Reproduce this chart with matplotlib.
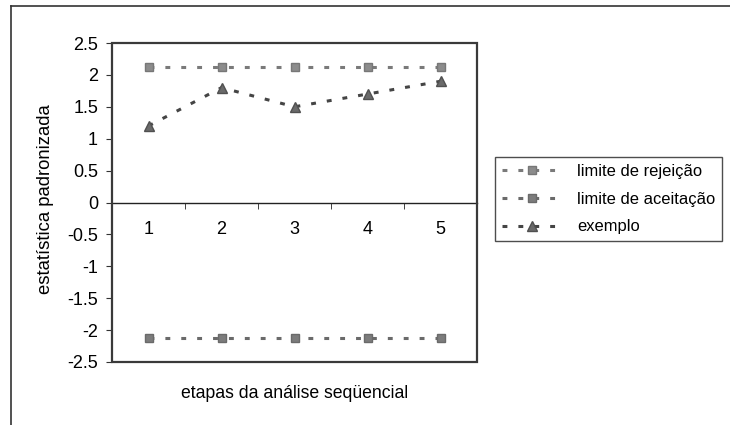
import numpy as np
import matplotlib
matplotlib.use("Agg")
import matplotlib.pyplot as plt
from matplotlib.patches import Rectangle
from matplotlib.lines import Line2D

plt.rcParams['font.family'] = ['Liberation Sans', 'DejaVu Sans']

# data
etapas = [1, 2, 3, 4, 5]
limite_rejeicao = [2.12, 2.12, 2.12, 2.12, 2.12]
limite_aceitacao = [-2.12, -2.12, -2.12, -2.12, -2.12]
exemplo = [1.2, 1.8, 1.5, 1.7, 1.9]
y_ticks = [2.5, 2, 1.5, 1, 0.5, 0, -0.5, -1, -1.5, -2, -2.5]
y_ticklabels = ['2.5', '2', '1.5', '1', '0.5', '0', '-0.5', '-1', '-1.5', '-2', '-2.5']
nomes = ['limite de rejeição', 'limite de aceitação', 'exemplo']

fig = plt.figure(figsize=(7.3, 4.25), dpi=100)
ax = fig.add_axes([112/730, 1-362/425, 365/730, 319/425])

ls = (0, (1.6, 3.6))
ax.plot(etapas, limite_rejeicao, linestyle=ls, lw=2.2, color='#7a7a7a',
        marker='s', ms=5.5, mfc='#8c8c8c', mec='#777777', label=nomes[0])
ax.plot(etapas, limite_aceitacao, linestyle=ls, lw=2.2, color='#6a6a6a',
        marker='s', ms=5.5, mfc='#7c7c7c', mec='#6a6a6a', label=nomes[1])
ax.plot(etapas, exemplo, linestyle=ls, lw=2.2, color='#454545',
        marker='^', ms=7, mfc='#6a6a6a', mec='#505050', label=nomes[2])

ax.set_xlim(0.5, 5.5)
ax.set_ylim(-2.5, 2.5)

# plot-area frame
for s in ['top', 'right', 'left']:
    ax.spines[s].set_visible(False)
ax.add_patch(Rectangle((0, 0), 1, 1, transform=ax.transAxes, fill=False,
                       ec='#3a3a3a', lw=1.6, clip_on=False, zorder=5))

# category axis crosses at zero
ax.spines['bottom'].set_position(('data', 0))
ax.spines['bottom'].set_color('#222222')
ax.spines['bottom'].set_linewidth(1.0)
ax.set_xticks(etapas)
ax.set_xticklabels([str(e) for e in etapas], fontsize=13)
ax.set_xticks([1.5, 2.5, 3.5, 4.5], minor=True)
ax.tick_params(axis='x', which='major', length=0, pad=13.5)
ax.tick_params(axis='x', which='minor', length=4, direction='out', color='#222222')

ax.set_yticks(y_ticks)
ax.set_yticklabels(y_ticklabels, fontsize=13)
ax.tick_params(axis='y', length=4, direction='out', pad=6, color='#333333')

ax.set_ylabel('estatística padronizada', fontsize=13.3)
ax.yaxis.set_label_coords(-0.16, 0.51)
ax.text(0.5, -0.098, 'etapas da análise seqüencial', transform=ax.transAxes,
        ha='center', va='center', fontsize=12.7)

leg = fig.legend(loc='upper left', bbox_to_anchor=(495/730, 1-157/425),
                 bbox_transform=fig.transFigure, borderaxespad=0,
                 fontsize=11.9, frameon=True, fancybox=False, handlelength=3.7,
                 handletextpad=0.85, labelspacing=0.78, borderpad=0.4)
leg.get_frame().set_edgecolor('#222222')
leg.get_frame().set_linewidth(1.0)

# outer chart border (only top and left survive in the scan)
fig.add_artist(Line2D([11/730, 1.0], [1-6/425, 1-6/425], transform=fig.transFigure,
                      color='#333333', lw=1.2))
fig.add_artist(Line2D([11/730, 11/730], [0.0, 1-6/425], transform=fig.transFigure,
                      color='#333333', lw=1.2))

fig.savefig('out.png', dpi=100)
